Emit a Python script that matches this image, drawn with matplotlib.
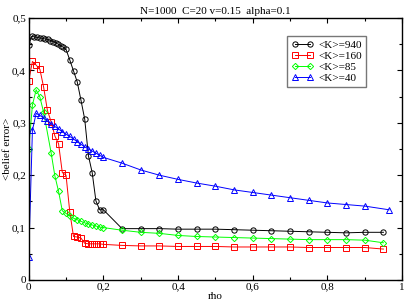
import matplotlib
matplotlib.use("Agg")
import matplotlib.pyplot as plt
from matplotlib.ticker import MultipleLocator, FuncFormatter

plt.rcParams['font.family'] = ['Liberation Serif', 'DejaVu Serif']

# <K>=940 (black circles)
x940 = [0.0, 0.008, 0.015, 0.022, 0.03, 0.037, 0.044, 0.051, 0.058, 0.065, 0.072,
        0.079, 0.086, 0.093, 0.1, 0.11, 0.12, 0.13, 0.14, 0.15, 0.16, 0.17, 0.18,
        0.19, 0.2, 0.25, 0.3, 0.35, 0.4, 0.45, 0.5, 0.55, 0.6, 0.65, 0.7, 0.75,
        0.8, 0.85, 0.9, 0.95]
y940 = [0.448, 0.465, 0.464, 0.463, 0.462, 0.461, 0.460, 0.459, 0.457, 0.455, 0.453,
        0.450, 0.447, 0.444, 0.440, 0.420, 0.399, 0.378, 0.343, 0.307, 0.237, 0.205,
        0.151, 0.134, 0.134, 0.098, 0.098, 0.098, 0.097, 0.097, 0.097, 0.096, 0.095,
        0.094, 0.093, 0.092, 0.091, 0.090, 0.091, 0.091]

# <K>=160 (red squares)
x160 = [0.0, 0.01, 0.02, 0.03, 0.04, 0.05, 0.06, 0.07, 0.08, 0.09, 0.1, 0.11, 0.12,
        0.13, 0.14, 0.15, 0.16, 0.17, 0.18, 0.19, 0.2, 0.25, 0.3, 0.35, 0.4, 0.45,
        0.5, 0.55, 0.6, 0.65, 0.7, 0.75, 0.8, 0.85, 0.9, 0.95]
y160 = [0.380, 0.417, 0.410, 0.402, 0.368, 0.324, 0.302, 0.275, 0.260, 0.205, 0.200,
        0.130, 0.083, 0.082, 0.080, 0.070, 0.069, 0.069, 0.069, 0.069, 0.068, 0.066,
        0.065, 0.065, 0.064, 0.064, 0.064, 0.063, 0.063, 0.063, 0.063, 0.062, 0.062,
        0.062, 0.062, 0.059]

# <K>=85 (green diamonds)
x85 = [0.0, 0.01, 0.02, 0.03, 0.04, 0.06, 0.07, 0.08, 0.09, 0.1, 0.11, 0.12, 0.13,
       0.14, 0.15, 0.16, 0.17, 0.18, 0.19, 0.2, 0.25, 0.3, 0.35, 0.4, 0.45, 0.5,
       0.55, 0.6, 0.65, 0.7, 0.75, 0.8, 0.85, 0.9, 0.95]
y85 = [0.250, 0.334, 0.363, 0.349, 0.320, 0.243, 0.199, 0.169, 0.132, 0.127, 0.122,
       0.118, 0.115, 0.112, 0.109, 0.107, 0.105, 0.103, 0.101, 0.100, 0.095, 0.091,
       0.089, 0.085, 0.083, 0.082, 0.081, 0.080, 0.079, 0.078, 0.077, 0.077, 0.077,
       0.076, 0.071]

# <K>=40 (blue triangles)
x40 = [0.0, 0.01, 0.02, 0.03, 0.04, 0.05, 0.06, 0.07, 0.08, 0.09, 0.1, 0.11, 0.12,
       0.13, 0.14, 0.15, 0.16, 0.17, 0.18, 0.19, 0.2, 0.25, 0.3, 0.35, 0.4, 0.45,
       0.5, 0.55, 0.6, 0.65, 0.7, 0.75, 0.8, 0.85, 0.9, 0.965]
y40 = [0.043, 0.286, 0.318, 0.314, 0.309, 0.303, 0.298, 0.293, 0.288, 0.283, 0.278,
       0.274, 0.269, 0.264, 0.259, 0.254, 0.250, 0.246, 0.242, 0.238, 0.234, 0.223,
       0.210, 0.200, 0.192, 0.185, 0.179, 0.172, 0.167, 0.162, 0.157, 0.152, 0.147,
       0.144, 0.141, 0.134]

fig = plt.figure(figsize=(4.07, 3.05), dpi=100)
ax = fig.add_axes([0.0705, 0.082, 0.9175, 0.859])

kw = dict(lw=0.7, ms=3.8, mew=0.7, mfc='none')
ax.plot(x940, y940, 'o-', color='black', label='<K>=940', **kw)
ax.plot(x160, y160, 's-', color='red', label='<K>=160', **kw)
ax.plot(x85, y85, 'D-', color='#00ff00', label='<K>=85', lw=0.7, ms=3.2, mew=0.7, mfc='none')
ax.plot(x40, y40, '^-', color='blue', label='<K>=40', **kw)

ax.set_xlim(0, 1)
ax.set_ylim(0, 0.5)
ax.xaxis.set_major_locator(MultipleLocator(0.2))
ax.xaxis.set_minor_locator(MultipleLocator(0.1))
ax.yaxis.set_major_locator(MultipleLocator(0.1))
ax.yaxis.set_minor_locator(MultipleLocator(0.05))

fmt = FuncFormatter(lambda v, p: ('%g' % round(v, 3)).replace('.', ','))
ax.xaxis.set_major_formatter(fmt)
ax.yaxis.set_major_formatter(fmt)

ax.tick_params(which='both', direction='in', top=True, right=True, labelsize=8, pad=2)
ax.tick_params(which='major', length=3.6, width=0.8)
ax.tick_params(which='minor', length=2.2, width=0.8)
for s in ax.spines.values():
    s.set_linewidth(1.0)

ax.set_title('N=1000  C=20 v=0.15  alpha=0.1', fontsize=8, pad=3)
ax.set_xlabel('rho', fontsize=8, labelpad=0)
ax.set_ylabel('<belief error>', fontsize=8, labelpad=0)

leg = ax.legend(loc='upper right', bbox_to_anchor=(0.902, 0.93), numpoints=2,
                fontsize=8, frameon=True, fancybox=False, handlelength=2.0,
                borderpad=0.35, labelspacing=0.1, handletextpad=0.4, borderaxespad=0)
leg.get_frame().set_edgecolor('#555555')
leg.get_frame().set_linewidth(1.0)

fig.savefig('out.png', dpi=100)
